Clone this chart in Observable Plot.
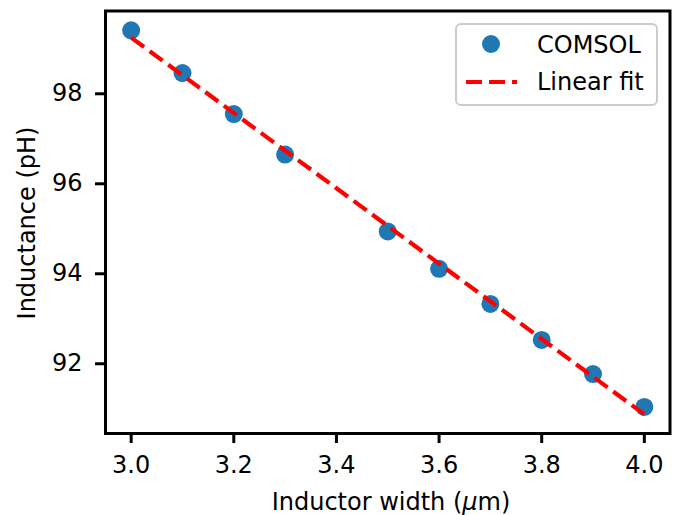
<!DOCTYPE html>
<html>
<head>
<meta charset="utf-8">
<script src="https://cdn.jsdelivr.net/npm/d3@7"></script>
<script src="https://cdn.jsdelivr.net/npm/@observablehq/plot@0.6"></script>
<style>
  html, body { margin: 0; padding: 0; background: #fff; }
  #chart { position: relative; width: 677px; height: 515px; overflow: hidden; }
</style>
</head>
<body>
<div id="chart"></div>
<script>
// ---- data ----
const widths = [3.0, 3.1, 3.2, 3.3, 3.5, 3.6, 3.7, 3.8, 3.9, 4.0];
const inductance = [99.41, 98.46, 97.55, 96.65, 94.94, 94.11, 93.33, 92.53, 91.77, 91.04];
const xTicks = [3.0, 3.2, 3.4, 3.6, 3.8, 4.0];
const yTicks = [92, 94, 96, 98];
const xDomain = [2.95, 4.05];
const yDomain = [90.45, 99.84];
const seriesLabels = ["COMSOL", "Linear fit"];
const xTitle = ["Inductor width (", "\u03bc", "m)"];
const yTitle = "Inductance (pH)";

const table = widths.map((w, i) => ({ w, L: inductance[i] }));

const FONT = "DejaVu Sans";
const BLUE = "#1f77b4";

const plot = Plot.plot({
  width: 677,
  height: 515,
  marginLeft: 105,
  marginRight: 7.5,
  marginTop: 10.5,
  marginBottom: 82,
  style: { fontFamily: FONT, fontSize: "24px", background: "#fff", color: "#000" },
  x: { domain: xDomain },
  y: { domain: yDomain },
  marks: [
    Plot.dot(table, { x: "w", y: "L", r: 9, fill: BLUE, stroke: "none" }),
    Plot.linearRegressionY(table, {
      x: "w", y: "L", ci: 0,
      stroke: "#ff0000", strokeWidth: 4.2,
      strokeDasharray: "16,7", strokeLinecap: "butt"
    }),
    Plot.axisX({
      ticks: xTicks, tickFormat: d => d.toFixed(1),
      tickSize: 10, tickPadding: 12, strokeWidth: 3,
      fontSize: 24, label: null
    }),
    Plot.axisY({
      ticks: yTicks, tickFormat: d => String(d),
      tickSize: 10, tickPadding: 13, strokeWidth: 3,
      fontSize: 24, label: null
    }),
    Plot.frame({ stroke: "#000", strokeWidth: 3 })
  ]
});

document.getElementById("chart").appendChild(plot);

// ---- axis titles ----
const svg = d3.select(plot);
const xt = svg.append("text")
  .attr("x", 391).attr("y", 510)
  .attr("text-anchor", "middle")
  .attr("font-family", FONT).attr("font-size", 24).attr("fill", "#000");
xt.append("tspan").text(xTitle[0]);
xt.append("tspan").attr("font-style", "italic").text(xTitle[1]);
xt.append("tspan").text(xTitle[2]);

svg.append("text")
  .attr("transform", "translate(34.5,223) rotate(-90)")
  .attr("text-anchor", "middle")
  .attr("font-family", FONT).attr("font-size", 24).attr("fill", "#000")
  .text(yTitle);

// ---- legend ----
const lg = svg.append("g").attr("text-anchor", "start");
lg.append("rect")
  .attr("x", 456).attr("y", 24).attr("width", 201).attr("height", 81)
  .attr("rx", 5).attr("ry", 5)
  .attr("fill", "rgba(255,255,255,0.8)")
  .attr("stroke", "#cccccc").attr("stroke-width", 2);
lg.append("circle")
  .attr("cx", 491).attr("cy", 44).attr("r", 9).attr("fill", BLUE);
lg.append("line")
  .attr("x1", 466).attr("x2", 517).attr("y1", 82).attr("y2", 82)
  .attr("stroke", "#ff0000").attr("stroke-width", 4.2)
  .attr("stroke-dasharray", "16,7").attr("stroke-linecap", "butt");
seriesLabels.forEach((t, i) => {
  lg.append("text")
    .attr("x", 537).attr("y", i === 0 ? 53 : 90)
    .attr("text-anchor", "start")
    .attr("font-family", FONT).attr("font-size", 24).attr("fill", "#000")
    .text(t);
});
</script>
</body>
</html>
